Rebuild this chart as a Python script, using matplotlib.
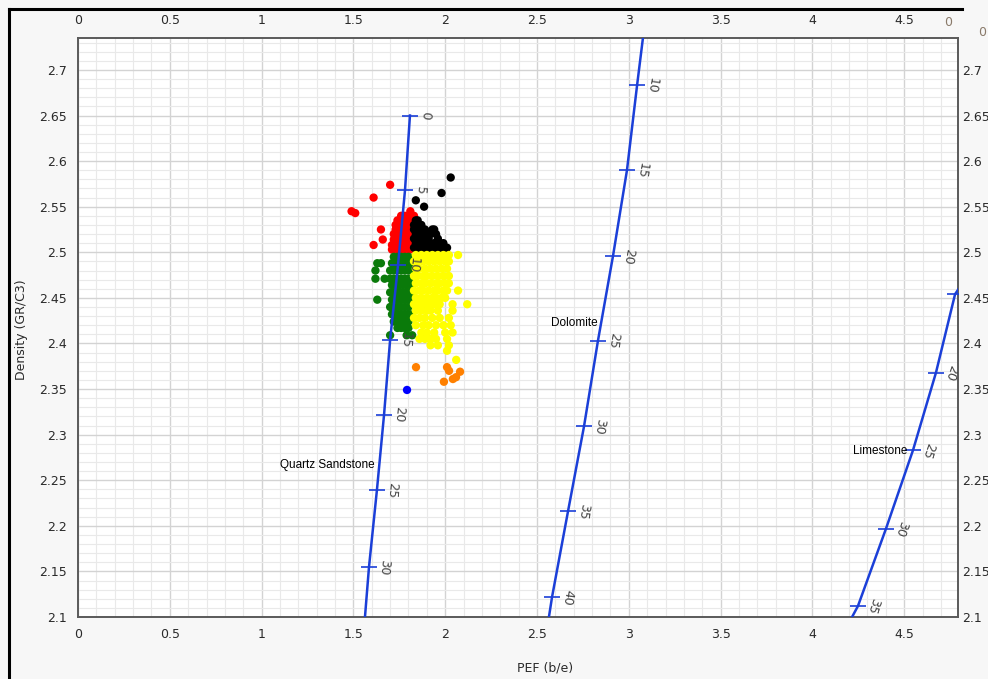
import numpy as np
import matplotlib
matplotlib.use('Agg')
import matplotlib.pyplot as plt
from matplotlib.ticker import MultipleLocator, FuncFormatter
from matplotlib.lines import Line2D

# porosity lines (porosity %, PEF, density) read at the tick marks
quartz_phi = [0, 5, 10, 15, 20, 25, 30]
quartz_pef = [1.808, 1.781, 1.743, 1.700, 1.667, 1.628, 1.585]
quartz_rho = [2.650, 2.568, 2.486, 2.404, 2.322, 2.239, 2.155]
quartz_end = (1.563, 2.10)

dolomite_phi = [10, 15, 20, 25, 30, 35, 40]
dolomite_pef = [3.045, 2.990, 2.914, 2.832, 2.756, 2.669, 2.582]
dolomite_rho = [2.683, 2.590, 2.496, 2.403, 2.309, 2.216, 2.122]
dolomite_top = (3.077, 2.735)
dolomite_end = (2.565, 2.10)

limestone_phi = [15, 20, 25, 30, 35]
limestone_pef = [4.777, 4.673, 4.548, 4.401, 4.248]
limestone_rho = [2.454, 2.368, 2.283, 2.197, 2.112]
limestone_top = (4.830, 2.470)
limestone_end = (4.216, 2.10)

# scatter points: (density, [PEF values]) rows
red_rows = [
    (2.574, [1.70]), (2.560, [1.61]), (2.545, [1.49, 1.81]), (2.543, [1.51]),
    (2.540, [1.76, 1.78, 1.80, 1.83]),
    (2.535, [1.74, 1.76, 1.78, 1.79, 1.81]),
    (2.530, [1.73, 1.75, 1.77, 1.79, 1.81]),
    (2.525, [1.65, 1.73, 1.74, 1.76, 1.78, 1.80, 1.82]),
    (2.520, [1.72, 1.74, 1.76, 1.78, 1.80, 1.82]),
    (2.514, [1.66, 1.72, 1.74, 1.75, 1.77, 1.79, 1.81]),
    (2.508, [1.61, 1.71, 1.73, 1.75, 1.77, 1.79, 1.81, 1.83]),
    (2.503, [1.71, 1.73, 1.75, 1.77, 1.79, 1.81, 1.83]),
]
black_rows = [
    (2.582, [2.03]), (2.565, [1.98]), (2.557, [1.84]), (2.550, [1.885]),
    (2.535, [1.84, 1.85]),
    (2.530, [1.83, 1.85, 1.87]),
    (2.525, [1.83, 1.85, 1.87, 1.89, 1.93, 1.94]),
    (2.520, [1.84, 1.86, 1.88, 1.90, 1.92, 1.95]),
    (2.515, [1.83, 1.85, 1.87, 1.89, 1.91, 1.96]),
    (2.510, [1.84, 1.86, 1.88, 1.90, 1.94, 1.97, 1.99]),
    (2.505, [1.83, 1.85, 1.87, 1.89, 1.91, 1.93, 1.95, 1.97, 1.99, 2.01]),
    (2.502, [1.85, 1.88, 1.92, 1.96, 2.00]),
]
green_rows = [
    (2.495, [1.72, 1.74, 1.76, 1.78, 1.80]),
    (2.488, [1.63, 1.65, 1.71, 1.73, 1.75, 1.77, 1.79, 1.81]),
    (2.480, [1.62, 1.70, 1.72, 1.74, 1.76, 1.78, 1.80, 1.82]),
    (2.471, [1.62, 1.67, 1.70, 1.72, 1.74, 1.76, 1.78, 1.80, 1.82]),
    (2.464, [1.71, 1.73, 1.75, 1.77, 1.79, 1.81]),
    (2.456, [1.70, 1.72, 1.74, 1.76, 1.78, 1.80, 1.82]),
    (2.448, [1.63, 1.71, 1.73, 1.75, 1.77, 1.79, 1.81]),
    (2.440, [1.70, 1.72, 1.74, 1.76, 1.78, 1.80]),
    (2.432, [1.71, 1.73, 1.75, 1.77, 1.79, 1.81]),
    (2.424, [1.72, 1.74, 1.76, 1.78, 1.80]),
    (2.417, [1.74, 1.76, 1.78, 1.80]),
    (2.409, [1.70, 1.79, 1.82]),
]
yellow_rows = [
    (2.497, [1.84, 1.87, 1.90, 1.93, 1.96, 1.99, 2.02, 2.07]),
    (2.490, [1.83, 1.85, 1.88, 1.91, 1.94, 1.97, 2.00, 2.02]),
    (2.482, [1.84, 1.86, 1.89, 1.92, 1.95, 1.98, 2.01]),
    (2.474, [1.83, 1.85, 1.88, 1.90, 1.93, 1.96, 1.99, 2.02]),
    (2.466, [1.84, 1.87, 1.89, 1.92, 1.95, 1.97, 2.00, 2.02]),
    (2.458, [1.83, 1.86, 1.88, 1.91, 1.94, 1.96, 1.99, 2.01, 2.07]),
    (2.450, [1.84, 1.87, 1.90, 1.93, 1.95, 1.98, 2.00]),
    (2.443, [1.83, 1.85, 1.88, 1.91, 1.94, 1.97, 2.04, 2.12]),
    (2.436, [1.84, 1.87, 1.90, 1.92, 1.96, 2.04]),
    (2.428, [1.83, 1.86, 1.89, 1.93, 1.97, 2.02]),
    (2.420, [1.84, 1.88, 1.91, 1.95, 1.99, 2.03]),
    (2.412, [1.87, 1.90, 1.94, 2.00, 2.04]),
    (2.405, [1.86, 1.89, 1.92, 1.95, 2.01]),
    (2.398, [1.92, 1.96, 2.02]),
    (2.392, [2.01]),
    (2.382, [2.06]),
]
orange_pef = [1.841, 2.010, 2.021, 2.081, 2.059, 2.042, 1.993]
orange_rho = [2.374, 2.374, 2.370, 2.369, 2.363, 2.361, 2.358]
blue_pef = [1.792]
blue_rho = [2.349]

x_ticks = [0, 0.5, 1, 1.5, 2, 2.5, 3, 3.5, 4, 4.5]
y_ticks = [2.1, 2.15, 2.2, 2.25, 2.3, 2.35, 2.4, 2.45, 2.5, 2.55, 2.6, 2.65, 2.7]

LINE_BLUE = '#1b3fd8'
TXT = '#2a2a2a'
DOT = 36


def expand(rows):
    xs, ys = [], []
    for rho, pefs in rows:
        for p in pefs:
            xs.append(p)
            ys.append(rho)
    return xs, ys


fig = plt.figure(figsize=(9.88, 6.79), dpi=100, facecolor='#f7f7f7')
ax = fig.add_axes([78 / 988, 62 / 679, 880 / 988, 579 / 679])
ax.set_facecolor('white')
ax.set_xlim(0, 4.793)
ax.set_ylim(2.1, 2.735)

ax.set_xticks(x_ticks)
ax.set_yticks(y_ticks)
ax.xaxis.set_minor_locator(MultipleLocator(0.1))
ax.yaxis.set_minor_locator(MultipleLocator(0.01))
fmt = FuncFormatter(lambda v, pos: '%g' % round(v, 2))
ax.xaxis.set_major_formatter(fmt)
ax.yaxis.set_major_formatter(fmt)
ax.grid(which='major', color='#d3d3d3', lw=1.0)
ax.grid(which='minor', color='#e9e9e9', lw=0.8)
ax.set_axisbelow(True)
ax.tick_params(which='both', length=0, top=True, labeltop=True,
               labelsize=9, labelcolor=TXT, pad=8)
for s in ax.spines.values():
    s.set_color('#5a5a5a')
    s.set_linewidth(1.4)

# right side labels (closer to the frame)
ax2 = ax.twinx()
ax2.set_ylim(ax.get_ylim())
ax2.set_yticks(y_ticks)
ax2.yaxis.set_major_formatter(fmt)
ax2.tick_params(length=0, labelsize=9, labelcolor=TXT, pad=3)
for s in ax2.spines.values():
    s.set_visible(False)

# scatter
groups = [('#ff0000', red_rows), ('#000000', black_rows),
          ('#0a7a0a', green_rows), ('#ffff00', yellow_rows)]
for c, rows in groups:
    xs, ys = expand(rows)
    ax.scatter(xs, ys, s=DOT, color=c, edgecolors='none', zorder=2)
ax.scatter(orange_pef, orange_rho, s=DOT, color='#ff8000', edgecolors='none', zorder=2)
ax.scatter(blue_pef, blue_rho, s=DOT, color='#0000ff', edgecolors='none', zorder=2)

# porosity lines
lines = [
    (quartz_phi, quartz_pef, quartz_rho, None, quartz_end),
    (dolomite_phi, dolomite_pef, dolomite_rho, dolomite_top, dolomite_end),
    (limestone_phi, limestone_pef, limestone_rho, limestone_top, limestone_end),
]
for phi, pef, rho, top, end in lines:
    lx = list(pef)
    ly = list(rho)
    if top is not None:
        lx = [top[0]] + lx
        ly = [top[1]] + ly
    lx.append(end[0])
    ly.append(end[1])
    ax.plot(lx, ly, color=LINE_BLUE, lw=1.8, zorder=3)
    ax.plot(pef, rho, ls='none', marker='_', ms=12, mew=1.2, color=LINE_BLUE, zorder=3)
    p = ax.transData.transform([[lx[0], ly[0]], [lx[-1], ly[-1]]])
    ang = np.degrees(np.arctan2(p[1][1] - p[0][1], p[1][0] - p[0][0]))
    for f, x, y in zip(phi, pef, rho):
        t = ax.annotate(str(f), (x, y), xytext=(11, 0), textcoords='offset points',
                        rotation=ang, rotation_mode='anchor', ha='center', va='center',
                        fontsize=9, color='#444444', zorder=4)
        t.set_clip_on(True)
        t.set_clip_box(ax.bbox)

ax.text(1.618, 2.2667, 'Quartz Sandstone', ha='right', va='center', fontsize=8.5,
        family='Liberation Sans', color='black')
ax.text(2.832, 2.4225, 'Dolomite', ha='right', va='center', fontsize=8.5,
        family='Liberation Sans', color='black')
ax.text(4.515, 2.282, 'Limestone', ha='right', va='center', fontsize=8.5,
        family='Liberation Sans', color='black')

fig.text(22 / 988, 1 - 330 / 679, 'Density (GR/C3)', rotation=90, ha='center', va='center',
         fontsize=9, color=TXT)
fig.text(545 / 988, 1 - 668 / 679, 'PEF (b/e)', ha='center', va='center', fontsize=9, color=TXT)
fig.text(948 / 988, 1 - 23 / 679, '0', ha='center', va='center', fontsize=9, color='#8a7a6a')
fig.text(982 / 988, 1 - 33 / 679, '0', ha='center', va='center', fontsize=9, color='#8a7a6a')

# window frame
fig.add_artist(Line2D([9 / 988, 9 / 988], [0, 1 - 9 / 679], transform=fig.transFigure,
                      color='black', lw=2.2))
fig.add_artist(Line2D([9 / 988, 962 / 988], [1 - 9 / 679, 1 - 9 / 679], transform=fig.transFigure,
                      color='black', lw=2.2))

fig.savefig('out.png', dpi=100, facecolor=fig.get_facecolor())
